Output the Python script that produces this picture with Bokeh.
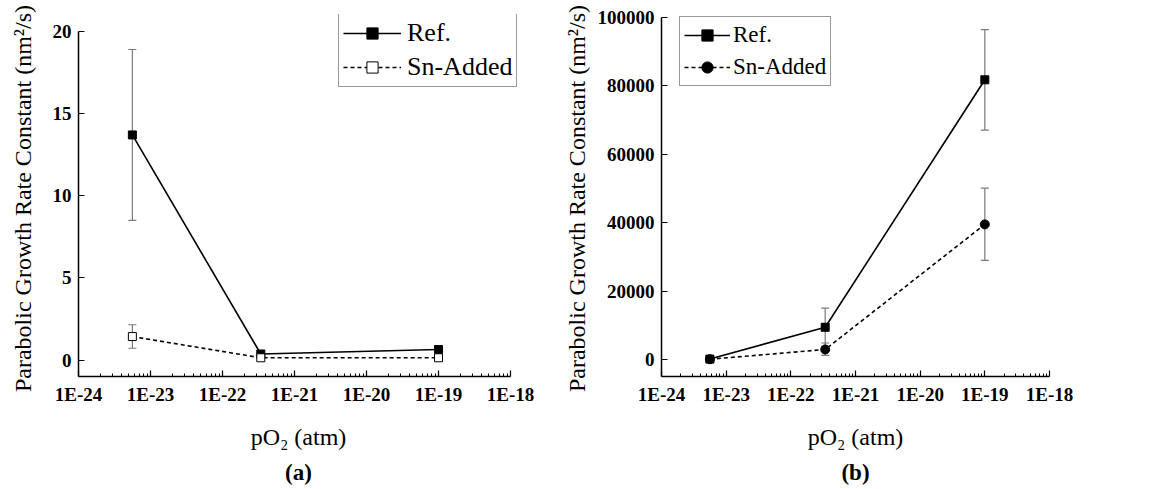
from bokeh.plotting import figure
from bokeh.layouts import row
from bokeh.models import (ColumnDataSource, Whisker, TeeHead, FixedTicker,
                          CustomJSTickFormatter, BasicTickFormatter, Range1d,
                          Title, Legend)
from bokeh.embed import file_html
from bokeh.resources import INLINE

# ---------------- data ----------------
po2 = [5.6e-24, 3.4e-22, 1.0e-19]

# panel (a)
a_ref = [13.7, 0.37, 0.64]
a_ref_lo = [8.5, 0.37, 0.64]
a_ref_hi = [18.9, 0.37, 0.64]
a_sn = [1.43, 0.14, 0.14]
a_sn_lo = [0.72, 0.14, 0.14]
a_sn_hi = [2.15, 0.14, 0.14]

# panel (b)
b_ref = [100, 9400, 81800]
b_ref_lo = [100, 3800, 67100]
b_ref_hi = [100, 15000, 96500]
b_sn = [50, 2900, 39500]
b_sn_lo = [50, 1200, 29000]
b_sn_hi = [50, 4800, 50100]

x_major = [1e-24, 1e-23, 1e-22, 1e-21, 1e-20, 1e-19, 1e-18]
a_yticks = [0, 5, 10, 15, 20]
b_yticks = [0, 20000, 40000, 60000, 80000, 100000]

y_label = "Parabolic Growth Rate Constant  (nm\u00b2/s)"
x_label = "pO\u2082 (atm)"

FONT = "Liberation Serif"
ERR = "#7a7a7a"

minor = []
for d in range(-24, -18):
    for k in range(2, 10):
        minor.append(k * 10.0 ** d)


def style(p, yticks, ybounds, ylabel_standoff):
    p.xaxis.ticker = FixedTicker(ticks=x_major, minor_ticks=minor)
    p.xaxis.formatter = CustomJSTickFormatter(
        code="return '1E' + Math.round(Math.log10(tick));")
    p.xaxis.bounds = (1e-24, 1e-18)
    p.yaxis.ticker = FixedTicker(ticks=yticks)
    p.yaxis.formatter = BasicTickFormatter(use_scientific=False)
    p.yaxis.bounds = ybounds
    p.xgrid.visible = False
    p.ygrid.visible = False
    p.outline_line_color = None
    for ax in (p.xaxis[0], p.yaxis[0]):
        ax.axis_line_color = "black"
        ax.axis_line_width = 1.5
        ax.major_tick_line_color = "black"
        ax.major_tick_line_width = 1.2
        ax.major_tick_in = 6
        ax.major_tick_out = 0
        ax.minor_tick_in = 3
        ax.minor_tick_out = 0
        ax.minor_tick_line_color = "black"
        ax.major_label_text_font = FONT
        ax.major_label_text_font_style = "bold"
        ax.major_label_text_font_size = "19px"
        ax.major_label_text_color = "black"
        ax.axis_label_text_font = FONT
        ax.axis_label_text_font_style = "normal"
        ax.axis_label_text_font_size = "24px"
        ax.axis_label_text_color = "black"
        ax.major_label_standoff = 7
    p.yaxis.minor_tick_line_color = None
    p.yaxis.axis_label = y_label
    p.yaxis.axis_label_standoff = ylabel_standoff
    p.xaxis.axis_label = x_label
    p.xaxis.axis_label_standoff = 16


def errbars(p, hi, lo):
    src = ColumnDataSource(dict(x=po2, upper=hi, lower=lo))
    w = Whisker(source=src, base="x", upper="upper", lower="lower",
                line_color=ERR, line_width=1.2,
                upper_head=TeeHead(size=8, line_color=ERR, line_width=1.2),
                lower_head=TeeHead(size=8, line_color=ERR, line_width=1.2))
    p.add_layout(w)


# ---------------- panel (a) ----------------
pa = figure(width=560, height=489, x_axis_type="log",
            x_range=Range1d(1e-24, 1.29e-18), y_range=Range1d(-1, 21.03),
            output_backend="svg", toolbar_location=None,
            min_border_left=78, min_border_right=42,
            min_border_top=14, min_border_bottom=110)
style(pa, a_yticks, (-1, 20), 14)
errbars(pa, a_ref_hi, a_ref_lo)
errbars(pa, a_sn_hi, a_sn_lo)
la1 = pa.line(po2, a_ref, line_color="black", line_width=1.6)
sa1 = pa.scatter(po2, a_ref, marker="square", size=8, fill_color="black",
                 line_color="black")
la2 = pa.line(po2, a_sn, line_color="black", line_width=1.6, line_dash="4 3")
sa2 = pa.scatter(po2, a_sn, marker="square", size=8, fill_color="white",
                 line_color="black", line_width=1)
leg_a = Legend(items=[("Ref.", [la1, sa1]), ("Sn-Added", [la2, sa2])],
               location=(260, 289), padding=4, spacing=4, margin=0,
               glyph_width=58, glyph_height=28, label_height=28,
               label_standoff=6, label_text_font=FONT,
               label_text_font_size="26px", label_text_color="black",
               border_line_color="#333333",
               border_line_width=1, background_fill_alpha=1.0)
pa.add_layout(leg_a)
pa.add_layout(Title(text="(a)", align="center", text_font=FONT,
                    text_font_size="23px", text_font_style="bold",
                    text_color="black"), "below")

# ---------------- panel (b) ----------------
pb = figure(width=592, height=489, x_axis_type="log",
            x_range=Range1d(1e-24, 1e-18), y_range=Range1d(-5000, 100900),
            output_backend="svg", toolbar_location=None,
            min_border_left=96, min_border_right=103,
            min_border_top=13, min_border_bottom=111)
style(pb, b_yticks, (-5000, 100000), 5)
errbars(pb, b_ref_hi, b_ref_lo)
errbars(pb, b_sn_hi, b_sn_lo)
lb1 = pb.line(po2, b_ref, line_color="black", line_width=1.6)
sb1 = pb.scatter(po2, b_ref, marker="square", size=8, fill_color="black",
                 line_color="black")
lb2 = pb.line(po2, b_sn, line_color="black", line_width=1.6, line_dash="4 3")
sb2 = pb.scatter(po2, b_sn, marker="circle", size=9, fill_color="black",
                 line_color="black")
leg_b = Legend(items=[("Ref.", [lb1, sb1]), ("Sn-Added", [lb2, sb2])],
               location=(18, 290), padding=4, spacing=4, margin=0,
               glyph_width=46, glyph_height=28, label_height=28,
               label_standoff=3, label_text_font=FONT,
               label_text_font_size="23px", label_text_color="black",
               border_line_color="#333333",
               border_line_width=1, background_fill_alpha=1.0)
pb.add_layout(leg_b)
pb.add_layout(Title(text="(b)", align="center", text_font=FONT,
                    text_font_size="23px", text_font_style="bold",
                    text_color="black"), "below")

layout = row(pa, pb)
open("out.html", "w").write(file_html(layout, INLINE))
